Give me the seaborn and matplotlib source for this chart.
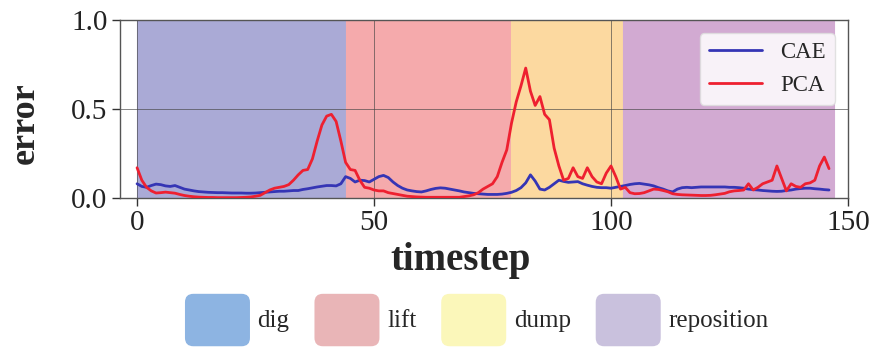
import numpy as np
import pandas as pd
import matplotlib
matplotlib.use("Agg")
import matplotlib.pyplot as plt
import seaborn as sns
from matplotlib.patches import Patch, FancyBboxPatch
from matplotlib.legend_handler import HandlerPatch

# Reconstruction error per timestep for the two models
cae_error = [
    0.080, 0.065, 0.060, 0.070, 0.078, 0.075, 0.068, 0.065, 0.070, 0.060,
    0.050, 0.045, 0.040, 0.036, 0.034, 0.032, 0.031, 0.030, 0.030, 0.029,
    0.028, 0.028, 0.028, 0.027, 0.027, 0.028, 0.030, 0.032, 0.034, 0.036,
    0.038, 0.038, 0.040, 0.042, 0.042, 0.048, 0.052, 0.057, 0.062, 0.066,
    0.070, 0.070, 0.068, 0.080, 0.120, 0.110, 0.090, 0.100, 0.098, 0.090,
    0.105, 0.120, 0.127, 0.115, 0.090, 0.070, 0.055, 0.045, 0.040, 0.036,
    0.034, 0.040, 0.048, 0.054, 0.057, 0.055, 0.050, 0.045, 0.040, 0.034,
    0.030, 0.026, 0.024, 0.022, 0.020, 0.020, 0.020, 0.022, 0.026, 0.032,
    0.042, 0.058, 0.085, 0.130, 0.095, 0.050, 0.045, 0.060, 0.080, 0.100,
    0.093, 0.088, 0.090, 0.092, 0.080, 0.072, 0.065, 0.060, 0.058, 0.058,
    0.055, 0.060, 0.065, 0.070, 0.076, 0.080, 0.082, 0.078, 0.074, 0.068,
    0.058, 0.050, 0.040, 0.034, 0.050, 0.058, 0.060, 0.058, 0.060, 0.062,
    0.062, 0.062, 0.062, 0.062, 0.062, 0.060, 0.060, 0.058, 0.055, 0.050,
    0.047, 0.045, 0.042, 0.040, 0.038, 0.037, 0.038, 0.042, 0.045, 0.050,
    0.053, 0.055, 0.055, 0.052, 0.050, 0.047, 0.045,
]
pca_error = [
    0.170, 0.100, 0.060, 0.040, 0.028, 0.030, 0.033, 0.030, 0.027, 0.020,
    0.014, 0.010, 0.007, 0.005, 0.004, 0.003, 0.003, 0.002, 0.002, 0.002,
    0.002, 0.002, 0.003, 0.004, 0.006, 0.010, 0.015, 0.030, 0.045, 0.055,
    0.060, 0.065, 0.075, 0.100, 0.130, 0.155, 0.160, 0.220, 0.320, 0.410,
    0.460, 0.470, 0.430, 0.320, 0.200, 0.160, 0.155, 0.100, 0.060, 0.055,
    0.045, 0.040, 0.040, 0.030, 0.025, 0.020, 0.015, 0.010, 0.008, 0.006,
    0.005, 0.004, 0.004, 0.004, 0.004, 0.004, 0.004, 0.004, 0.004, 0.008,
    0.012, 0.018, 0.030, 0.050, 0.065, 0.080, 0.120, 0.200, 0.270, 0.420,
    0.540, 0.630, 0.730, 0.600, 0.520, 0.570, 0.470, 0.440, 0.280, 0.180,
    0.100, 0.110, 0.170, 0.120, 0.110, 0.170, 0.120, 0.090, 0.080, 0.140,
    0.180, 0.120, 0.050, 0.060, 0.030, 0.024, 0.025, 0.030, 0.040, 0.050,
    0.048, 0.042, 0.035, 0.024, 0.020, 0.018, 0.017, 0.016, 0.015, 0.014,
    0.014, 0.015, 0.018, 0.022, 0.026, 0.035, 0.040, 0.042, 0.045, 0.080,
    0.045, 0.060, 0.080, 0.090, 0.100, 0.180, 0.110, 0.040, 0.080, 0.065,
    0.060, 0.080, 0.085, 0.100, 0.180, 0.230, 0.165,
]
model_names = ["CAE", "PCA"]

# Task phases: (name, start timestep, end timestep)
phase_names = ["dig", "lift", "dump", "reposition"]
phase_starts = [0, 44, 79, 102.5]
phase_ends = [44, 79, 102.5, 147]

x_ticks = [0, 50, 100, 150]
y_ticks = [0.0, 0.5, 1.0]

span_colors = ["#aaaad6", "#f5aaac", "#fcd9a0", "#d2aad2"]
key_colors = ["#8db4e2", "#e9b5b7", "#fbf7ba", "#c9c1dd"]
line_colors = {"CAE": "#3535b5", "PCA": "#ee2030"}

sns.set_style("ticks")
plt.rcParams["font.family"] = ["Liberation Serif", "DejaVu Serif"]
plt.rcParams["mathtext.fontset"] = "stix"

df = pd.concat([
    pd.DataFrame({"timestep": np.arange(len(cae_error)), "error": cae_error, "model": "CAE"}),
    pd.DataFrame({"timestep": np.arange(len(pca_error)), "error": pca_error, "model": "PCA"}),
], ignore_index=True)

fig = plt.figure(figsize=(8.73, 3.49), dpi=100)
ax = fig.add_axes([120 / 873, 1 - 198 / 349, 728 / 873, 178 / 349])

for start, end, c in zip(phase_starts, phase_ends, span_colors):
    ax.axvspan(start, end, facecolor=c, edgecolor=c, linewidth=0.8, zorder=0)

sns.lineplot(data=df, x="timestep", y="error", hue="model", hue_order=model_names,
             palette=line_colors, linewidth=2.0, ax=ax, zorder=3)

ax.set_xlim(-3.6, 150)
ax.set_ylim(0, 1)
ax.set_xticks(x_ticks)
ax.set_yticks(y_ticks)
ax.set_yticklabels([f"{v:.1f}" for v in y_ticks])
ax.tick_params(axis="both", labelsize=21, direction="out", length=6, width=1,
               color="#333333", labelcolor="#222222", pad=3)
ax.grid(True, color="#444444", linewidth=0.6, alpha=0.75, zorder=1)
for s in ax.spines.values():
    s.set_color("#555555")
    s.set_linewidth(1.0)

ax.set_xlabel("timestep", fontsize=28, fontweight="bold")
ax.set_ylabel("error", fontsize=26, fontweight="bold")
ax.xaxis.set_label_coords(0.468, -0.245)
ax.yaxis.set_label_coords(-0.107, 0.42)

handles, labels = ax.get_legend_handles_labels()
ax.legend(handles, labels, loc="upper right", bbox_to_anchor=(0.982, 0.927),
          borderaxespad=0, fontsize=16.5, handlelength=2.3, frameon=True,
          framealpha=0.85, facecolor="white", edgecolor="#dddddd", fancybox=True)


class RoundedKey(HandlerPatch):
    def create_artists(self, legend, orig_handle, xdescent, ydescent, width,
                       height, fontsize, trans):
        r = 0.16 * height
        p = FancyBboxPatch((-xdescent + r, -ydescent + r), width - 2 * r, height - 2 * r,
                           boxstyle=f"round,pad={r}", facecolor=orig_handle.get_facecolor(),
                           edgecolor="none", transform=trans)
        return [p]


phase_handles = [Patch(facecolor=c, label=n) for n, c in zip(phase_names, key_colors)]
fig.legend(handles=phase_handles, loc="center", bbox_to_anchor=(0.546, 0.083),
           ncol=4, frameon=False, fontsize=18, handlelength=2.6, handleheight=2.85,
           handletextpad=0.3, columnspacing=1.0,
           handler_map={Patch: RoundedKey()})

fig.savefig("out.png", dpi=100)
